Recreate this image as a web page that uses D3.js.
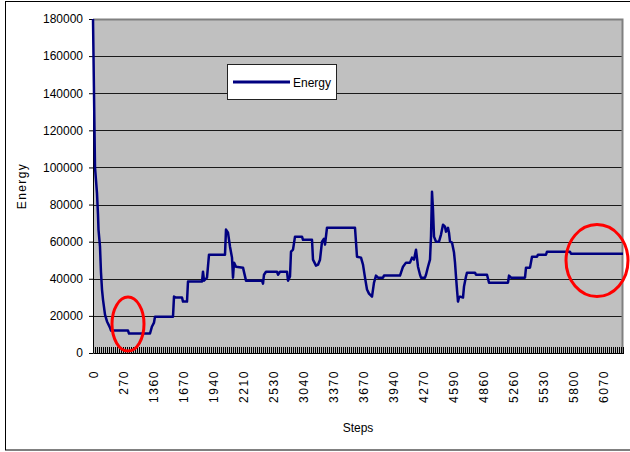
<!DOCTYPE html>
<html>
<head>
<meta charset="utf-8">
<script src="https://cdn.jsdelivr.net/npm/d3@7"></script>
<style>
    body { margin: 0; background: white; }
    svg text { font-family: "Liberation Sans", Arial, sans-serif; fill: black; }
</style>
</head>
<body>
<div id="chart"></div>
<script>

// x axis: one tick per step category, a label on every 15th one
let categoryCount = 265;
let labelEvery = 15;
let stepLabels = [0, 270, 1360, 1670, 1940, 2210, 2530, 3040, 3370, 3670, 3940, 4270, 4590, 4860, 5260, 5530, 5800, 6070];

// y axis ticks
let energyTicks = [0, 20000, 40000, 60000, 80000, 100000, 120000, 140000, 160000, 180000];

// energy curve (category index, energy)
let stepIndex = [
    0, 1, 2, 2.5, 2.75, 3.5, 4, 4.5, 5, 6, 7, 8.5, 9, 17.5, 18, 28.5, 29.5, 30.5, 31, 40,
    40.5, 41.5, 44.5, 45, 47, 47.5, 54.5, 55, 55.5, 57, 58, 66, 66.5, 67.5, 68.5, 69.5, 70, 70.5, 71.5, 75,
    76.5, 84.5, 85, 85.5, 86.5, 92, 92.5, 93.5, 97, 97.5, 98.5, 99, 100, 101, 104.5, 105, 109.5, 110, 111.5, 112.5,
    113.5, 114.5, 115.5, 116, 117, 131, 132, 134, 135, 136, 137, 138, 139.5, 140.5, 141.5, 142.5, 145, 145.5, 153.5, 155,
    156.5, 158.5, 159.5, 160.5, 161.5, 162.5, 163.5, 164, 166, 166.5, 167.5, 168.5, 169, 169.5, 170, 170.5, 171.5, 173, 174, 175,
    176, 176.5, 177.5, 178, 178.5, 179.5, 180.5, 181, 181.5, 182, 182.5, 183, 183.5, 185, 185.5, 186.5, 187, 191, 191.5, 197,
    198, 207.5, 208, 209, 216, 216.5, 218.5, 219.5, 222, 222.5, 226.5, 227, 238.5, 239, 265
];
let energy = [
    180000, 100000, 86000, 74500, 66500, 57300, 43300, 34200, 28800, 20700, 17000, 13700, 12100, 12100, 10500, 10500, 14300, 16400, 19600, 19600,
    30400, 29900, 29900, 27700, 27700, 38500, 38500, 43800, 39000, 40600, 53000, 53000, 66500, 64800, 57300, 51400, 40600, 48700, 46500, 46000,
    39000, 39000, 37400, 42200, 43800, 43800, 42200, 43800, 43800, 39000, 41200, 54600, 55700, 62700, 62700, 61000, 61000, 50300, 47100, 47600,
    50300, 60000, 61600, 58400, 67500, 67500, 51900, 51400, 47600, 40600, 34200, 32000, 30400, 37900, 41700, 40600, 40600, 41700, 41700, 46500,
    48700, 48700, 51400, 50300, 55700, 46500, 42200, 40600, 40600, 42200, 46500, 50300, 62700, 86900, 77200, 62700, 60000, 60000, 63800, 69100,
    68100, 65400, 67500, 64800, 60000, 59500, 54100, 48700, 41200, 34200, 27700, 29900, 30400, 29900, 35800, 41200, 43300, 43300, 42200, 42200,
    37900, 37900, 41700, 40600, 40600, 46000, 46000, 51900, 51900, 53000, 53000, 54600, 54600, 53500, 53500
];

// red circles drawn on the chart (centre in data units)
let markIndex = [17.5, 252];
let markEnergy = [15600, 49800];


class EnergyChart {

    constructor(parentElement) {
        this.parentElement = parentElement;
        this.displayData = stepIndex.map((d, i) => [d, energy[i]]);
        this.initVis();
    }

    initVis() {
        let vis = this;

        vis.margin = {top: 19, right: 7, bottom: 99, left: 93};
        vis.width = 630 - vis.margin.left - vis.margin.right;
        vis.height = 452 - vis.margin.top - vis.margin.bottom;

        vis.svg = d3.select("#" + vis.parentElement).append("svg")
            .attr("width", 630)
            .attr("height", 452);

        // outer chart frame
        vis.svg.append("rect")
            .attr("x", 5.5).attr("y", 1.5)
            .attr("width", 640).attr("height", 448.5)
            .attr("fill", "white")
            .attr("stroke", "black");

        vis.g = vis.svg.append("g")
            .attr("transform", `translate(${vis.margin.left}, ${vis.margin.top})`);

        vis.x = d3.scaleLinear()
            .domain([0, categoryCount])
            .range([0, vis.width]);

        vis.y = d3.scaleLinear()
            .domain([0, 180000])
            .range([vis.height, 0]);

        // gray plot area
        vis.g.append("rect")
            .attr("width", vis.width)
            .attr("height", vis.height)
            .attr("fill", "#c0c0c0");

        // grid lines
        vis.g.selectAll(".grid")
            .data(energyTicks.filter(d => d > 0 && d < 180000))
            .enter().append("line")
            .attr("class", "grid")
            .attr("x1", 0).attr("x2", vis.width)
            .attr("y1", d => Math.round(vis.y(d)) + 0.5)
            .attr("y2", d => Math.round(vis.y(d)) + 0.5)
            .attr("stroke", "#1a1a1a");

        // top and right border of the plot
        vis.g.append("path")
            .attr("d", `M0,0.5H${vis.width - 0.5}V${vis.height}`)
            .attr("fill", "none")
            .attr("stroke", "#808080")
            .attr("stroke-width", 2);

        // y axis
        vis.yAxis = d3.axisLeft(vis.y)
            .tickValues(energyTicks)
            .tickSize(4)
            .tickPadding(6)
            .tickFormat(d3.format("d"));

        vis.g.append("g")
            .attr("class", "y-axis")
            .call(vis.yAxis)
            .call(g => g.selectAll("text").attr("font-size", 12).attr("font-family", null))
            .call(g => g.selectAll("line, path").attr("stroke", "black"));

        // x axis, dense ticks pointing into the plot
        vis.xAxis = d3.axisBottom(vis.x)
            .tickValues(d3.range(0, categoryCount + 1))
            .tickSize(-6)
            .tickSizeOuter(0)
            .tickFormat(d => d % labelEvery === 0 && stepLabels[d / labelEvery] !== undefined ? stepLabels[d / labelEvery] : "");

        vis.g.append("g")
            .attr("class", "x-axis")
            .attr("transform", `translate(0, ${vis.height})`)
            .call(vis.xAxis)
            .call(g => g.selectAll("line, path").attr("stroke", "black").attr("shape-rendering", "crispEdges"))
            .call(g => g.selectAll("text")
                .attr("font-size", 12)
                .attr("font-family", null)
                .attr("letter-spacing", "1.6px")
                .attr("text-anchor", "end")
                .attr("transform", "rotate(-90)")
                .attr("x", -17)
                .attr("y", 0)
                .attr("dy", "0.35em"));

        // energy line
        vis.line = d3.line()
            .x(d => vis.x(d[0]))
            .y(d => vis.y(d[1]));

        vis.g.append("path")
            .datum(vis.displayData)
            .attr("d", vis.line)
            .attr("fill", "none")
            .attr("stroke", "#000080")
            .attr("stroke-width", 2.5)
            .attr("stroke-linejoin", "round");

        // red circles
        vis.g.selectAll(".mark")
            .data(markIndex)
            .enter().append("ellipse")
            .attr("class", "mark")
            .attr("cx", d => vis.x(d))
            .attr("cy", (d, i) => vis.y(markEnergy[i]))
            .attr("rx", (d, i) => i === 0 ? 16 : 31)
            .attr("ry", (d, i) => i === 0 ? 27 : 36)
            .attr("fill", "none")
            .attr("stroke", "red")
            .attr("stroke-width", 3);

        // legend
        vis.legend = vis.svg.append("g")
            .attr("class", "legend")
            .attr("transform", "translate(227, 64)");

        vis.legend.append("rect")
            .attr("x", 0.5).attr("y", 0.5)
            .attr("width", 109).attr("height", 35)
            .attr("fill", "white")
            .attr("stroke", "#222");

        vis.legend.append("line")
            .attr("x1", 6).attr("x2", 63)
            .attr("y1", 18).attr("y2", 18)
            .attr("stroke", "#000080")
            .attr("stroke-width", 3);

        vis.legend.append("text")
            .attr("x", 66).attr("y", 23)
            .attr("font-size", 12)
            .text("Energy");

        // axis titles
        vis.svg.append("text")
            .attr("transform", "translate(26, 186) rotate(-90)")
            .attr("text-anchor", "middle")
            .attr("font-size", 12)
            .attr("letter-spacing", "1.4px")
            .text("Energy");

        vis.svg.append("text")
            .attr("x", 358).attr("y", 432)
            .attr("text-anchor", "middle")
            .attr("font-size", 12)
            .text("Steps");
    }
}

new EnergyChart("chart");

</script>
</body>
</html>
